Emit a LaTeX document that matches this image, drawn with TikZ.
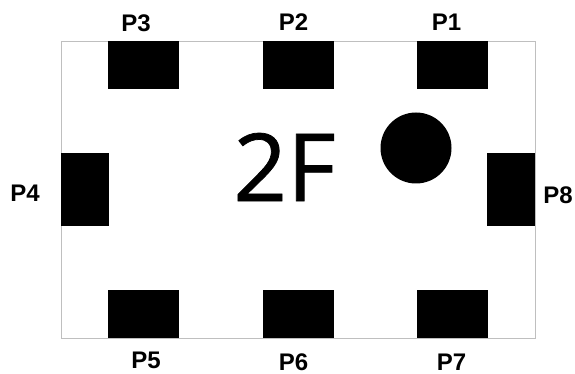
\documentclass[tikz,border=0pt]{standalone}
\usepackage{fontspec}
\setmainfont{Liberation Sans}
\newfontfamily\bigf[FakeBold=0.8]{Open Sans}
\begin{document}
\begin{tikzpicture}[x=1pt,y=-1pt,
 pad/.style={fill=black,draw=none,minimum width=#1,inner sep=0pt,outer sep=0pt},
 lab/.style={font=\bfseries\fontsize{24}{25}\selectfont,inner sep=0pt,text=black}]
\useasboundingbox (0,0) rectangle (575,374);
\node[draw=black!25,line width=0.8pt,minimum width=474,minimum height=296,inner sep=0,anchor=north west] (frame) at (61,41.5) {};
\foreach \n/\x in {p3/143.8,p2/298,p1/452}{
 \node[pad=71,minimum height=48] (\n) at (\x,65.5) {};}
\foreach \n/\x in {p5/143.8,p6/298,p7/452}{
 \node[pad=71,minimum height=48] (\n) at (\x,314) {};}
\node[pad=48,minimum height=72] (p4) at (85,189.5) {};
\node[pad=48,minimum height=72] (p8) at (511,189.5) {};
\node[circle,fill=black,minimum size=71,inner sep=0] (dot) at (416,148) {};
\node[font=\bigf\fontsize{94}{96}\selectfont,inner sep=0] (t) at (284.5,167) {2F};
\node[lab] (l3) at (136,23) {P3};
\node[lab] (l2) at (293.5,22.5) {P2};
\node[lab] (l1) at (446.5,22.5) {P1};
\node[lab] (l4) at (25,193) {P4};
\node[lab] (l8) at (558,195) {P8};
\node[lab] (l5) at (146,360.3) {P5};
\node[lab] (l6) at (293.5,362.5) {P6};
\node[lab] (l7) at (451.5,362.5) {P7};
\end{tikzpicture}
\end{document}
